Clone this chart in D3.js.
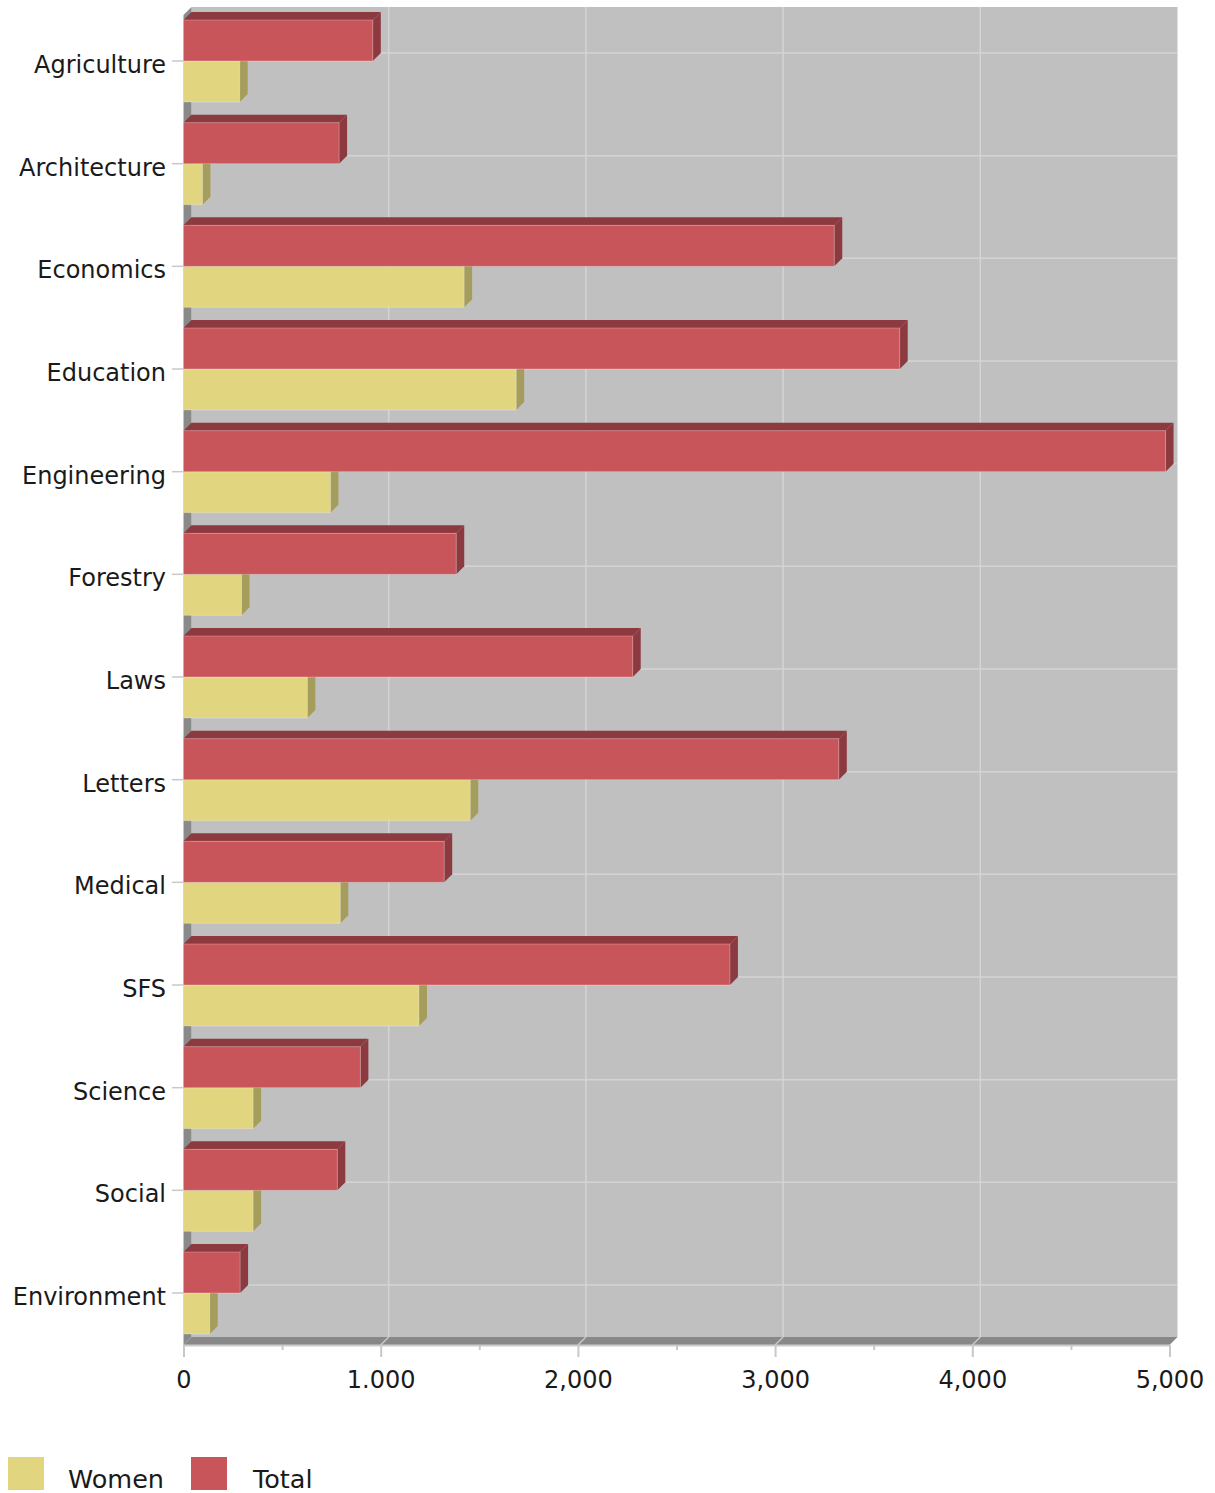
<!DOCTYPE html>
<html><head><meta charset="utf-8">
<script src="https://cdn.jsdelivr.net/npm/d3@7"></script>
<style>body{margin:0;background:#fff}text{font-family:"DejaVu Sans",sans-serif;fill:#1a1a1a}</style>
</head><body><svg id="c" width="1215" height="1493"></svg>
<script>
const categories = ["Agriculture","Architecture","Economics","Education","Engineering","Forestry","Laws","Letters","Medical","SFS","Science","Social","Environment"];
const seriesNames = ["Total","Women"];
const totalValues = [960, 789, 3300, 3632, 4980, 1383, 2278, 3323, 1322, 2771, 897, 780, 287];
const womenValues = [285, 96, 1423, 1687, 745, 294, 628, 1454, 795, 1194, 353, 353, 133];
const tickValues = [0, 1000, 2000, 3000, 4000, 5000];
const tickLabels = ["0", "1.000", "2,000", "3,000", "4,000", "5,000"];
const minorTicks = [500, 1500, 2500, 3500, 4500];

const colors = {
  Total: {front: "#c8555a", top: "#8c3a3f", side: "#8c3a3f"},
  Women: {front: "#e2d57f", top: "#a89f5c", side: "#a59d5b"}
};
const D = 8; // 3D depth offset
const svg = d3.select("#c");
const x = d3.scaleLinear().domain([0, 5000]).range([183.5, 1169.5]);
const y = d3.scalePoint().domain(categories).range([61, 1293]);
const sub = d3.scaleBand().domain(seriesNames).range([-41, 41]);
const frontTop = 15, frontBottom = 1345;
const x0 = x(0), xMax = x(5000);

// back wall
svg.append("rect").attr("x", x0 + D).attr("y", frontTop - D)
  .attr("width", xMax + D - (x0 + D)).attr("height", frontBottom - frontTop)
  .attr("fill", "#c0c0c0");
// floor
svg.append("path").attr("d", `M${x0},${frontBottom}L${x0 + D},${frontBottom - D}L${xMax + D},${frontBottom - D}L${xMax},${frontBottom}Z`)
  .attr("fill", "#888");
// left wall
svg.append("path").attr("d", `M${x0},${frontTop}L${x0 + D},${frontTop - D}L${x0 + D},${frontBottom - D}L${x0},${frontBottom}Z`)
  .attr("fill", "#8a8a8a");

// gridlines (vertical) on wall + floor
tickValues.slice(1, -1).forEach(v => {
  svg.append("line").attr("x1", x(v) + D).attr("x2", x(v) + D)
    .attr("y1", frontTop - D).attr("y2", frontBottom - D)
    .attr("stroke", "#d4d4d4").attr("stroke-width", 1.5);
  svg.append("line").attr("x1", x(v)).attr("x2", x(v) + D)
    .attr("y1", frontBottom).attr("y2", frontBottom - D)
    .attr("stroke", "#c8c8c8").attr("stroke-width", 1.5);
});
// category gridlines on wall
categories.forEach(c => {
  svg.append("line").attr("x1", x0 + D).attr("x2", xMax + D)
    .attr("y1", y(c) - D).attr("y2", y(c) - D)
    .attr("stroke", "#d4d4d4").attr("stroke-width", 1.5);
});

// bars
function bar(g, v, yTop, h, col) {
  const xa = x0, xb = x(v), ya = yTop, yb = yTop + h;
  g.append("path").attr("d", `M${xa},${ya}L${xa + D},${ya - D}L${xb + D},${ya - D}L${xb},${ya}Z`)
    .attr("fill", col.top);
  g.append("path").attr("d", `M${xb},${ya}L${xb + D},${ya - D}L${xb + D},${yb - D}L${xb},${yb}Z`)
    .attr("fill", col.side);
  g.append("rect").attr("x", xa).attr("y", ya).attr("width", xb - xa).attr("height", h)
    .attr("fill", col.front).attr("stroke", "rgba(255,255,255,0.25)").attr("stroke-width", 1);
}
const barsG = svg.append("g");
categories.forEach((c, i) => {
  const g = barsG.append("g");
  bar(g, womenValues[i], y(c) + sub("Women"), sub.bandwidth(), colors.Women);
  bar(g, totalValues[i], y(c) + sub("Total"), sub.bandwidth(), colors.Total);
});

// category axis labels + ticks
categories.forEach(c => {
  svg.append("line").attr("x1", 172).attr("x2", 183).attr("y1", y(c)).attr("y2", y(c))
    .attr("stroke", "#c8c8c8").attr("stroke-width", 1.5);
  svg.append("text").attr("x", 166).attr("y", y(c) + 12).attr("text-anchor", "end")
    .attr("font-size", 24).text(c);
});

// value axis
const axis = d3.axisBottom(x).tickValues(tickValues)
  .tickFormat((d, i) => tickLabels[i]).tickSize(12).tickSizeOuter(0).tickPadding(8);
const ax = svg.append("g").attr("transform", `translate(0,${frontBottom})`).call(axis);
ax.select(".domain").attr("stroke", "#cccccc").attr("stroke-width", 2);
ax.selectAll(".tick line").attr("stroke", "#c8c8c8").attr("stroke-width", 2);
ax.selectAll(".tick text").attr("font-size", 24).attr("fill", "#1a1a1a")
  .attr("font-family", "DejaVu Sans").attr("dy", "0.95em");
const minorAxis = d3.axisBottom(x).tickValues(minorTicks).tickSize(5).tickFormat("").tickSizeOuter(0);
const mx = svg.append("g").attr("transform", `translate(0,${frontBottom})`).call(minorAxis);
mx.select(".domain").remove();
mx.selectAll(".tick line").attr("stroke", "#c8c8c8").attr("stroke-width", 2);

// legend
const legend = [{name: "Women", rx: 8, tx: 68}, {name: "Total", rx: 191, tx: 253}];
legend.forEach(l => {
  svg.append("rect").attr("x", l.rx).attr("y", 1457).attr("width", 36).attr("height", 33)
    .attr("fill", colors[l.name].front);
  svg.append("text").attr("x", l.tx).attr("y", 1488).attr("font-size", 25.5).text(l.name);
});
</script></body></html>
